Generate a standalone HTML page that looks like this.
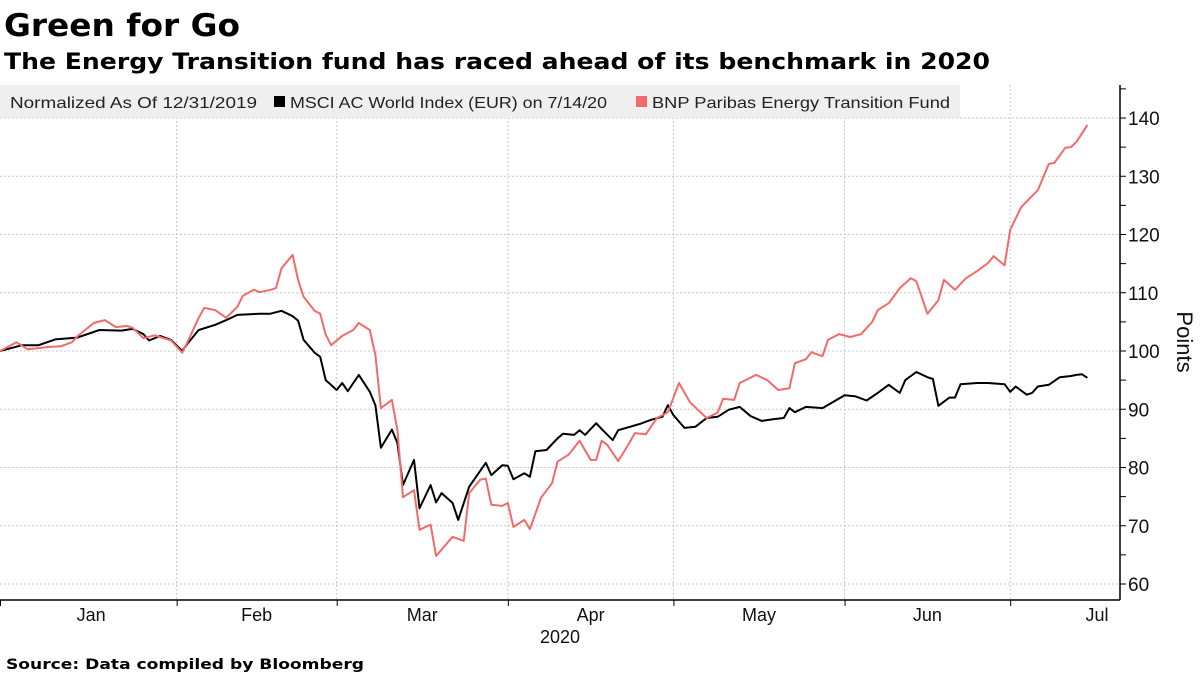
<!DOCTYPE html>
<html><head><meta charset="utf-8"><style>
html,body{margin:0;padding:0;background:#fff;width:1200px;height:675px;overflow:hidden}
svg{display:block}
</style></head><body>
<svg id="chart" width="1200" height="675" xmlns="http://www.w3.org/2000/svg" font-family="Liberation Sans, sans-serif">
<text x="4" y="36" font-family="DejaVu Sans, sans-serif" font-weight="bold" font-size="31" textLength="236" lengthAdjust="spacingAndGlyphs">Green for Go</text>
<text x="4" y="69" font-family="DejaVu Sans, sans-serif" font-weight="bold" font-size="22" textLength="986" lengthAdjust="spacingAndGlyphs">The Energy Transition fund has raced ahead of its benchmark in 2020</text>
<g id="grid"></g>
<g id="legend">
<rect x="0" y="85" width="960" height="33" fill="#efefef"/>
<text x="10" y="108" font-size="16" fill="#222" textLength="247" lengthAdjust="spacingAndGlyphs">Normalized As Of 12/31/2019</text>
<rect x="274" y="96" width="11" height="11" fill="#000"/>
<text x="290" y="108" font-size="16" fill="#222" textLength="317" lengthAdjust="spacingAndGlyphs">MSCI AC World Index (EUR)  on 7/14/20</text>
<rect x="636" y="96" width="11" height="11" fill="#f26b6b"/>
<text x="652" y="108" font-size="16" fill="#222" textLength="298" lengthAdjust="spacingAndGlyphs">BNP Paribas Energy Transition Fund</text>
</g>
<g id="series"></g>
<g id="axes"></g>
<text transform="translate(1177,342) rotate(90)" text-anchor="middle" font-size="22" fill="#111">Points</text>
<text x="560" y="643" text-anchor="middle" font-size="18" fill="#111">2020</text>
<text x="6" y="669" font-family="DejaVu Sans, sans-serif" font-weight="bold" font-size="14" textLength="358" lengthAdjust="spacingAndGlyphs">Source: Data compiled by Bloomberg</text>
</svg>
<script>
const yTicks = [60,70,80,90,100,110,120,130,140];
const monthLabels = ["Jan","Feb","Mar","Apr","May","Jun","Jul"];
const monthStartDays = [1,32,61,92,122,153,183];
const msciDays = [0,4,7,10,14,18,22,24,26,27,29,31,33,34,36,39,41,43,47,49,51,53,54,55,57,58,59,61,62,63,65,67,68,69,71,72,73,75,76,78,79,80,82,83,85,88,89,91,92,93,95,96,97,99,101,102,104,105,106,108,109,111,112,116,118,120,121,122,124,126,128,130,132,134,136,138,140,142,143,144,146,149,151,153,155,157,159,161,163,164,166,168,169,170,172,173,174,177,179,182,183,184,186,187,188,190,192,194,195,196,197];
const msciValues = [100,101,101,102,102.3,103.6,103.5,103.8,102.9,101.8,102.6,101.9,100,101.3,103.6,104.5,105.3,106.2,106.4,106.4,106.9,106,105.2,101.9,99.7,99,95,93.3,94.5,93.1,95.9,93,90.7,83.4,86.5,84.2,77,81.3,73,77,74,75.6,73.9,71,76.7,80.8,78.7,80.4,80.3,78,79,78.4,82.8,83,85,85.8,85.6,86.4,85.6,87.6,86.6,84.7,86.4,87.5,88.2,88.7,90.7,89,86.8,87,88.5,88.7,89.9,90.4,88.8,88,88.3,88.5,90.2,89.5,90.4,90.2,91.3,92.4,92.2,91.5,92.8,94.2,92.8,95,96.4,95.5,95.2,90.6,92,92,94.3,94.5,94.5,94.3,93,93.9,92.5,92.8,93.9,94.2,95.5,95.7,95.9,96,95.4,95.7];
const bnpDays = [0,3,5,9,11,13,14,17,19,21,23,24,26,28,31,33,34,36,37,39,41,43,44,46,47,49,50,51,53,54,55,57,58,59,60,62,64,65,67,68,69,71,72,73,75,76,78,79,81,82,84,85,87,88,89,91,92,93,95,96,98,100,101,103,105,107,108,109,110,112,114,115,117,119,121,123,125,128,130,131,133,134,137,139,141,143,144,146,147,149,150,152,154,156,158,159,161,163,165,166,168,170,171,173,175,177,179,180,182,183,185,188,190,191,193,194,195,197];
const bnpValues = [100,101.5,100.3,100.7,100.8,101.5,102.5,104.8,105.3,104.1,104.3,104,102.2,102.7,101.8,99.7,101.6,105.7,107.4,107,105.7,107.6,109.5,110.5,110.1,110.5,110.8,114.2,116.5,112.2,109.3,106.9,106.4,102.8,101,102.6,103.6,104.8,103.6,99.3,90.2,91.6,86.4,74.9,76.1,69.3,70.2,64.8,67,68.1,67.4,75.6,77.9,78.1,73.6,73.4,73.9,69.8,71,69.4,74.8,77.3,81,82.2,84.6,81.3,81.3,84.6,83.9,81.1,84.2,85.9,85.7,88.5,89.5,94.5,91.2,88.5,89.4,91.8,91.6,94.5,95.9,95,93.3,93.6,97.9,98.6,99.8,99.1,101.9,102.9,102.4,102.9,105,107,108.2,110.8,112.5,112,106.4,108.7,112.2,110.5,112.5,113.7,115.1,116.3,114.7,120.8,124.7,127.6,132.1,132.3,134.9,135,135.9,138.8];

const X0 = 0, PXDAY = 5.52;
const Y_TOP_VAL = 140, Y_TOP_PX = 118, PXUNIT = 5.825;
function xScale(d){ return X0 + d*PXDAY; }
function yScale(v){ return Y_TOP_PX + (Y_TOP_VAL - v)*PXUNIT; }
const NS = "http://www.w3.org/2000/svg";
function mk(tag, attrs, parent){ const e=document.createElementNS(NS,tag); for(const k in attrs) e.setAttribute(k,attrs[k]); parent.appendChild(e); return e; }
const grid=document.getElementById('grid'), axes=document.getElementById('axes'), series=document.getElementById('series');
const AXIS_X=1120, AXIS_Y=600;

yTicks.forEach(v=>{
  const y=yScale(v);
  const g=mk('line',{x1:0,x2:AXIS_X,y1:y,y2:y,stroke:'#c8c8c8','stroke-dasharray':'2,2','stroke-width':1},grid);
  
  
  const t=mk('text',{x:AXIS_X+8,y:y+7,'font-size':19,fill:'#111'},axes);
  t.textContent=v;
  
  
});
for(let v=60; v<=145; v+=5){
  const tk=mk('line',{x1:AXIS_X,x2:AXIS_X+6,y1:yScale(v),y2:yScale(v),stroke:'#000','stroke-width':1},axes);
  
  
}
monthStartDays.forEach((d,i)=>{
  const x = i===0 ? 0 : xScale(d);
  if(i>0){
    const g=mk('line',{x1:x,x2:x,y1:85,y2:AXIS_Y,stroke:'#c8c8c8','stroke-dasharray':'2,2','stroke-width':1},grid);
    
    
  }
  const tk=mk('line',{x1:x+0.5,x2:x+0.5,y1:AXIS_Y,y2:AXIS_Y+6,stroke:'#000','stroke-width':1},axes);
  
  
  const next = i<monthStartDays.length-1 ? monthStartDays[i+1] : d+15;
  const lx = i<monthStartDays.length-1 ? xScale((d+next)/2) : 1097;
  const t=mk('text',{x:lx,y:621,'text-anchor':'middle','font-size':18,fill:'#111'},axes);
  t.textContent=monthLabels[i];
  
  
});
const ax=mk('line',{x1:0,x2:AXIS_X,y1:AXIS_Y,y2:AXIS_Y,stroke:'#000','stroke-width':1.5},axes);


const ay=mk('line',{x1:AXIS_X,x2:AXIS_X,y1:85,y2:AXIS_Y,stroke:'#000','stroke-width':1.5},axes);



function pts(days, vals){ return days.map((d,i)=>xScale(d).toFixed(1)+','+yScale(vals[i]).toFixed(1)).join(' '); }
const l1=mk('polyline',{points:pts(msciDays,msciValues),fill:'none',stroke:'#000','stroke-width':2,'stroke-linejoin':'round'},series);


const l2=mk('polyline',{points:pts(bnpDays,bnpValues),fill:'none',stroke:'#f26b6b','stroke-width':2,'stroke-linejoin':'round'},series);


</script>
</body></html>
